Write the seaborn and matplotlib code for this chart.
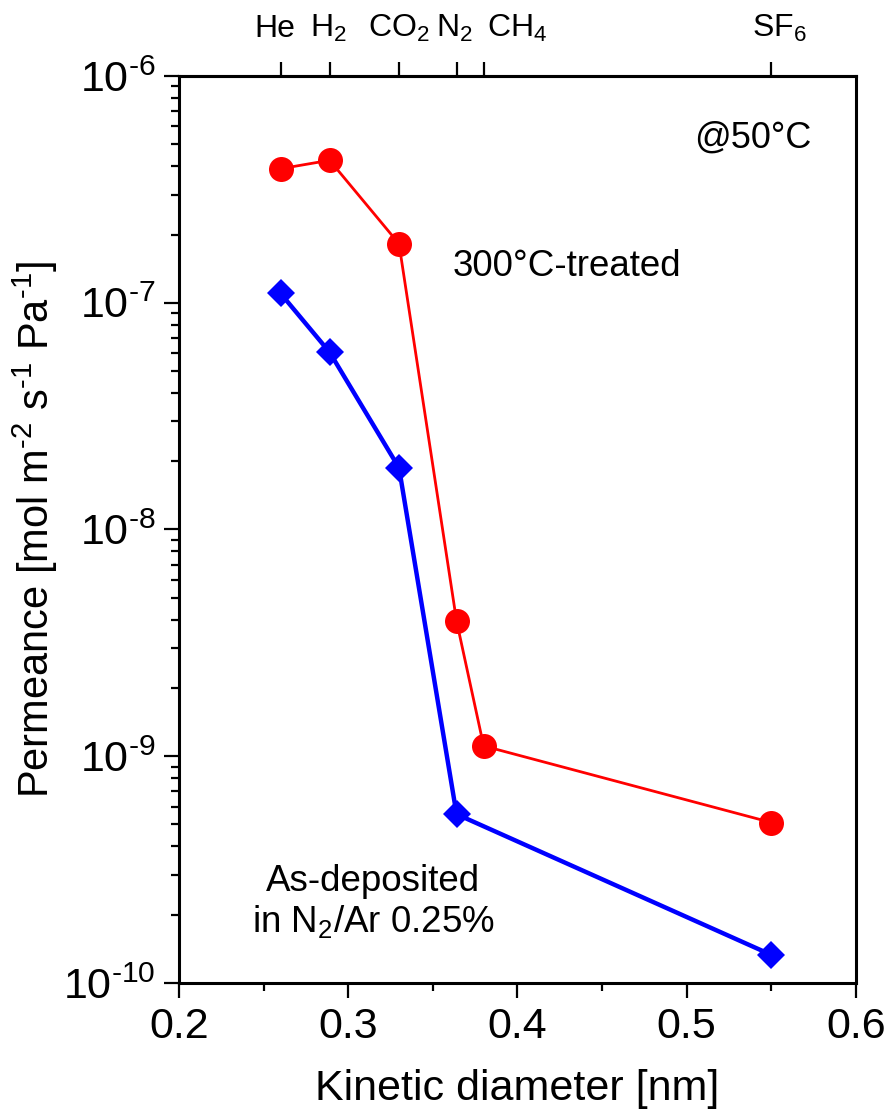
import matplotlib
matplotlib.use("Agg")
import matplotlib.pyplot as plt
import matplotlib.ticker as mticker
import seaborn as sns
import pandas as pd
import numpy as np

# ---- data ----
gas_labels = ["He", "H$_2$", "CO$_2$", "N$_2$", "CH$_4$", "SF$_6$"]
gas_diam = [0.26, 0.289, 0.33, 0.364, 0.38, 0.55]
gas_label_x = [0.2567, 0.2884, 0.330, 0.363, 0.400, 0.555]

treated_x = [0.26, 0.289, 0.33, 0.364, 0.38, 0.55]
treated_y = [3.9e-7, 4.25e-7, 1.82e-7, 3.95e-9, 1.11e-9, 5.1e-10]

asdep_x = [0.26, 0.289, 0.33, 0.364, 0.55]
asdep_y = [1.10e-7, 6.05e-8, 1.87e-8, 5.55e-10, 1.33e-10]

sns.set_theme(style="ticks")
plt.rcParams["font.family"] = ["Liberation Sans", "DejaVu Sans"]
plt.rcParams["mathtext.fontset"] = "custom"
plt.rcParams["mathtext.rm"] = "Liberation Sans"
plt.rcParams["mathtext.it"] = "Liberation Sans:italic"
plt.rcParams["mathtext.bf"] = "Liberation Sans:bold"
plt.rcParams["text.color"] = "black"

fig = plt.figure(figsize=(8.9, 11.18), dpi=100)
ax = fig.add_axes([0.2011, 0.1208, 0.7607, 0.8112])

df_t = pd.DataFrame({"d": treated_x, "p": treated_y})
df_a = pd.DataFrame({"d": asdep_x, "p": asdep_y})

sns.lineplot(data=df_t, x="d", y="p", ax=ax, color=(1, 0, 0), linewidth=2.0,
             marker="o", markersize=18, markeredgewidth=0, markeredgecolor=(1, 0, 0),
             sort=False, zorder=3)
sns.lineplot(data=df_a, x="d", y="p", ax=ax, color=(0, 0, 1), linewidth=3.2,
             marker="D", markersize=14, markeredgewidth=0, markeredgecolor=(0, 0, 1),
             sort=False, zorder=3)

ax.set_yscale("log")
ax.set_xlim(0.2, 0.6)
ax.set_ylim(1e-10, 1e-6)


def yfmt(v, pos):
    e = int(round(np.log10(v)))
    if e < 0:
        return r"$\mathregular{10^{\text{-}%d}}$" % (-e)
    return r"$\mathregular{10^{%d}}$" % e


ax.xaxis.set_major_locator(mticker.MultipleLocator(0.1))
ax.xaxis.set_minor_locator(mticker.MultipleLocator(0.05))
ax.xaxis.set_major_formatter(mticker.FormatStrFormatter("%.1f"))
ax.yaxis.set_major_locator(mticker.LogLocator(base=10, numticks=10))
ax.yaxis.set_major_formatter(mticker.FuncFormatter(yfmt))
ax.yaxis.set_minor_locator(mticker.LogLocator(base=10, subs=np.arange(2, 10), numticks=20))
ax.yaxis.set_minor_formatter(mticker.NullFormatter())

for sp in ax.spines.values():
    sp.set_linewidth(2.2)
    sp.set_color("black")

ax.tick_params(axis="both", which="major", direction="out", length=11, width=1.6,
               labelsize=31, color="black", labelcolor="black", pad=6)
ax.tick_params(axis="both", which="minor", direction="out", length=6, width=1.6, color="black")
ax.tick_params(top=False, right=False, which="both")

ax.set_xlabel("Kinetic diameter [nm]", fontsize=31, color="black", labelpad=16)
ax.set_ylabel(r"Permeance [mol m$^{\text{-}2}$ s$^{\text{-}1}$ Pa$^{\text{-}1}$]",
              fontsize=30, color="black")
ax.yaxis.set_label_coords(-0.176, 0.5)

sec = ax.secondary_xaxis("top")
sec.set_xticks(gas_diam, labels=[""] * len(gas_diam))
sec.tick_params(axis="x", direction="out", length=10, width=1.6, color="black")
sec.spines["top"].set_linewidth(2.2)
sec.xaxis.set_minor_locator(mticker.NullLocator())

for lx, lab in zip(gas_label_x, gas_labels):
    ax.text(lx, 1.043, lab, transform=ax.get_xaxis_transform(), fontsize=23,
            ha="center", va="baseline", color="black",
            family=["Liberation Sans Narrow", "Liberation Sans"])

ax.text(0.4293, 1.44e-7, "300\u00b0C-treated", fontsize=26.5, ha="center", va="center", color="black")
ax.text(0.539, 5.33e-7, "@50\u00b0C", fontsize=26, ha="center", va="center", color="black")
ax.text(0.3147, 2.81e-10, "As-deposited", fontsize=26.5, ha="center", va="center", color="black")
ax.text(0.3147, 1.86e-10, "in N$_2$/Ar 0.25%", fontsize=26.5, ha="center", va="center", color="black")

fig.savefig("out.png", dpi=100)
